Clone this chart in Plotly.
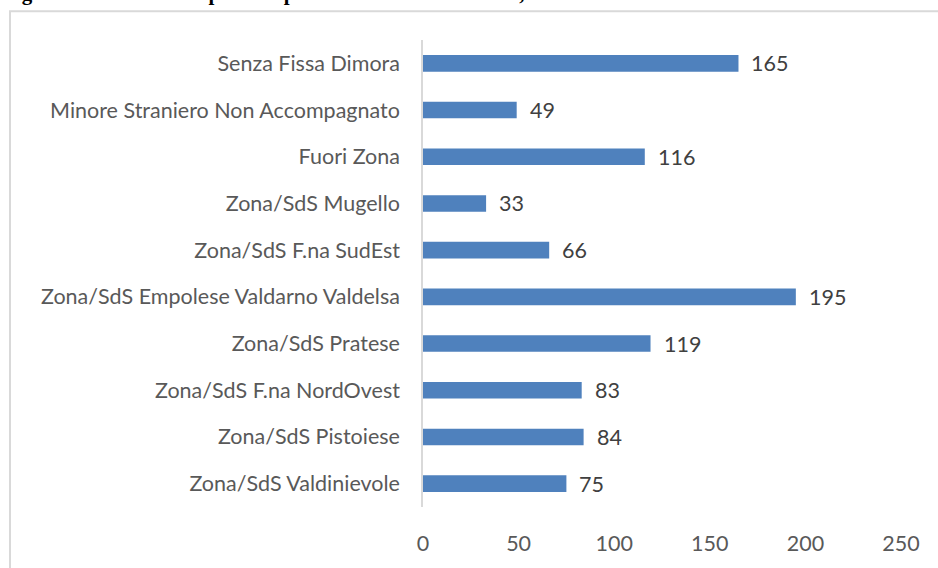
import plotly.graph_objects as go

categories = [
    "Senza Fissa Dimora",
    "Minore Straniero Non Accompagnato",
    "Fuori Zona",
    "Zona/SdS Mugello",
    "Zona/SdS F.na SudEst",
    "Zona/SdS Empolese Valdarno Valdelsa",
    "Zona/SdS Pratese",
    "Zona/SdS F.na NordOvest",
    "Zona/SdS Pistoiese",
    "Zona/SdS Valdinievole",
]
values = [165, 49, 116, 33, 66, 195, 119, 83, 84, 75]
x_ticks = [0, 50, 100, 150, 200, 250]
title_text = "Figura 1.7: Numero di persone per Zona/SdS di residenza, ACES TC anno 2022"

W, H = 938, 568
ML, MR, MT, MB = 423, 37, 40, 57
PW, PH = W - ML - MR, H - MT - MB

def px_x(p):
    return (p - ML) / PW

def px_y(p):
    return 1 - (p - MT) / PH

FONT = "Lato"
FS = 21.5

fig = go.Figure()
fig.add_trace(go.Bar(
    x=values, y=categories, orientation="h",
    marker=dict(color="#4f81bd", line=dict(width=0)),
    width=0.355, hoverinfo="x+y",
))

for c, v in zip(categories, values):
    fig.add_annotation(x=v, y=c, xref="x", yref="y", text=str(v),
                       showarrow=False, xanchor="left", xshift=11,
                       font=dict(family=FONT, size=FS, color="#404040"))

fig.add_annotation(x=px_x(1), y=px_y(7), xref="paper", yref="paper",
                   text="<b>" + title_text + "</b>", showarrow=False,
                   xanchor="left", yanchor="bottom",
                   font=dict(family="Liberation Serif", size=21, color="#000000"))

fig.add_shape(type="rect", xref="paper", yref="paper",
              x0=px_x(10), x1=px_x(960), y0=px_y(590), y1=px_y(11),
              line=dict(color="#d9d9d9", width=2), fillcolor="rgba(0,0,0,0)",
              layer="below")

fig.update_layout(
    width=W, height=H,
    margin=dict(l=ML, r=MR, t=MT, b=MB, pad=0),
    paper_bgcolor="white", plot_bgcolor="white",
    showlegend=False,
    font=dict(family=FONT, size=FS, color="#595959"),
    xaxis=dict(range=[0, 250], tickvals=x_ticks, showgrid=False, zeroline=False,
               showline=False, ticks="", ticklabelstandoff=21,
               tickfont=dict(family=FONT, size=FS, color="#595959")),
    yaxis=dict(categoryorder="array", categoryarray=categories, autorange="reversed",
               showgrid=False, zeroline=False, showline=True, linecolor="#d9d9d9",
               linewidth=1.5, ticks="", ticklabelstandoff=17,
               tickfont=dict(family=FONT, size=FS, color="#595959")),
)

fig.write_html("out.html", config={"displayModeBar": False},
               post_script="document.body.style.margin='0';document.body.style.overflow='hidden';")
